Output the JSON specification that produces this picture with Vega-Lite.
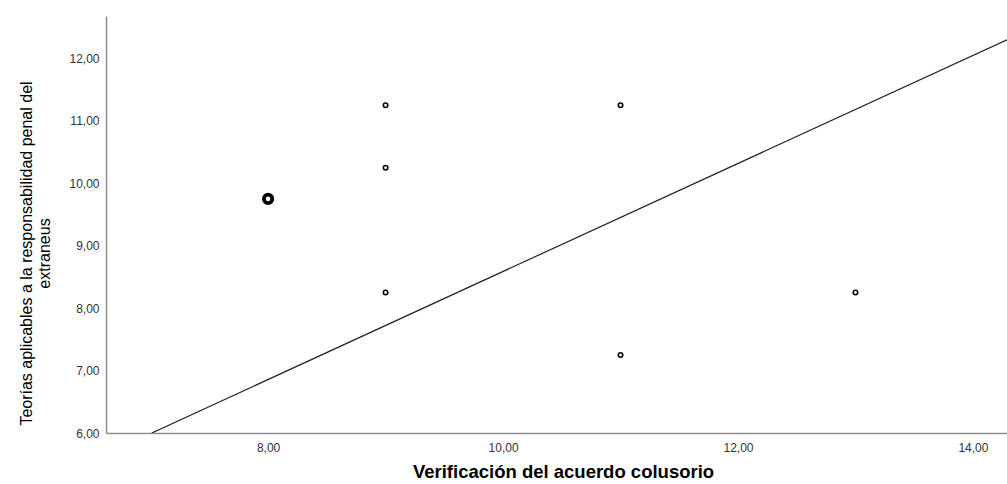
{
  "$schema": "https://vega.github.io/schema/vega-lite/v6.json",
  "autosize": "none",
  "padding": {"left": 106, "top": 16, "right": 0, "bottom": 51},
  "width": 901,
  "height": 417,
  "background": "white",
  "config": {
    "view": {"stroke": null},
    "font": "Liberation Sans",
    "axis": {"grid": false, "ticks": false, "domainColor": "#8c8c8c", "domainWidth": 1.5, "labelColor": "#333", "titleColor": "#000", "labelFontSize": 12, "labelFont": "Liberation Sans", "titleFont": "Liberation Sans"}
  },
  "datasets": {
    "points": [
      {"verificacion": 8, "teorias": 9.75},
      {"verificacion": 8, "teorias": 9.75},
      {"verificacion": 8, "teorias": 9.75},
      {"verificacion": 9, "teorias": 11.25},
      {"verificacion": 9, "teorias": 10.25},
      {"verificacion": 9, "teorias": 8.25},
      {"verificacion": 11, "teorias": 11.25},
      {"verificacion": 11, "teorias": 7.25},
      {"verificacion": 13, "teorias": 8.25}
    ],
    "fit": [
      {"verificacion": 7.01, "teorias": 6.0},
      {"verificacion": 14.29, "teorias": 12.3}
    ]
  },
  "layer": [
    {
      "data": {"name": "fit"},
      "mark": {"type": "line", "color": "#222", "strokeWidth": 1.2, "clip": true},
      "encoding": {
        "x": {"field": "verificacion", "type": "quantitative", "scale": {"domain": [6.62, 14.29], "nice": false, "zero": false},
          "axis": {"values": [8, 10, 12, 14], "labelExpr": "replace(format(datum.value, '.2f'), '.', ',')", "labelPadding": 9, "title": "Verificación del acuerdo colusorio", "titleFontSize": 18.5, "titleFontWeight": "bold", "titlePadding": 9, "titleX": 457}},
        "y": {"field": "teorias", "type": "quantitative", "scale": {"domain": [6, 12.68], "nice": false, "zero": false},
          "axis": {"values": [6, 7, 8, 9, 10, 11, 12], "labelExpr": "replace(format(datum.value, '.2f'), '.', ',')", "labelPadding": 7, "title": ["Teorías aplicables a la responsabilidad penal del", "extraneus"], "titleFontSize": 16, "titleFontWeight": "normal", "titlePadding": 16, "titleLineHeight": 18, "titleY": 237}}
      }
    },
    {
      "data": {"name": "points"},
      "mark": {"type": "point", "shape": "circle", "filled": false, "color": "#000", "opacity": 1},
      "encoding": {
        "x": {"field": "verificacion", "type": "quantitative"},
        "y": {"field": "teorias", "type": "quantitative"},
        "size": {"aggregate": "count", "type": "quantitative", "scale": {"domain": [1, 3], "range": [20, 70]}, "legend": null},
        "strokeWidth": {"aggregate": "count", "type": "quantitative", "scale": {"domain": [1, 3], "range": [1.6, 3.8]}, "legend": null}
      }
    }
  ]
}
